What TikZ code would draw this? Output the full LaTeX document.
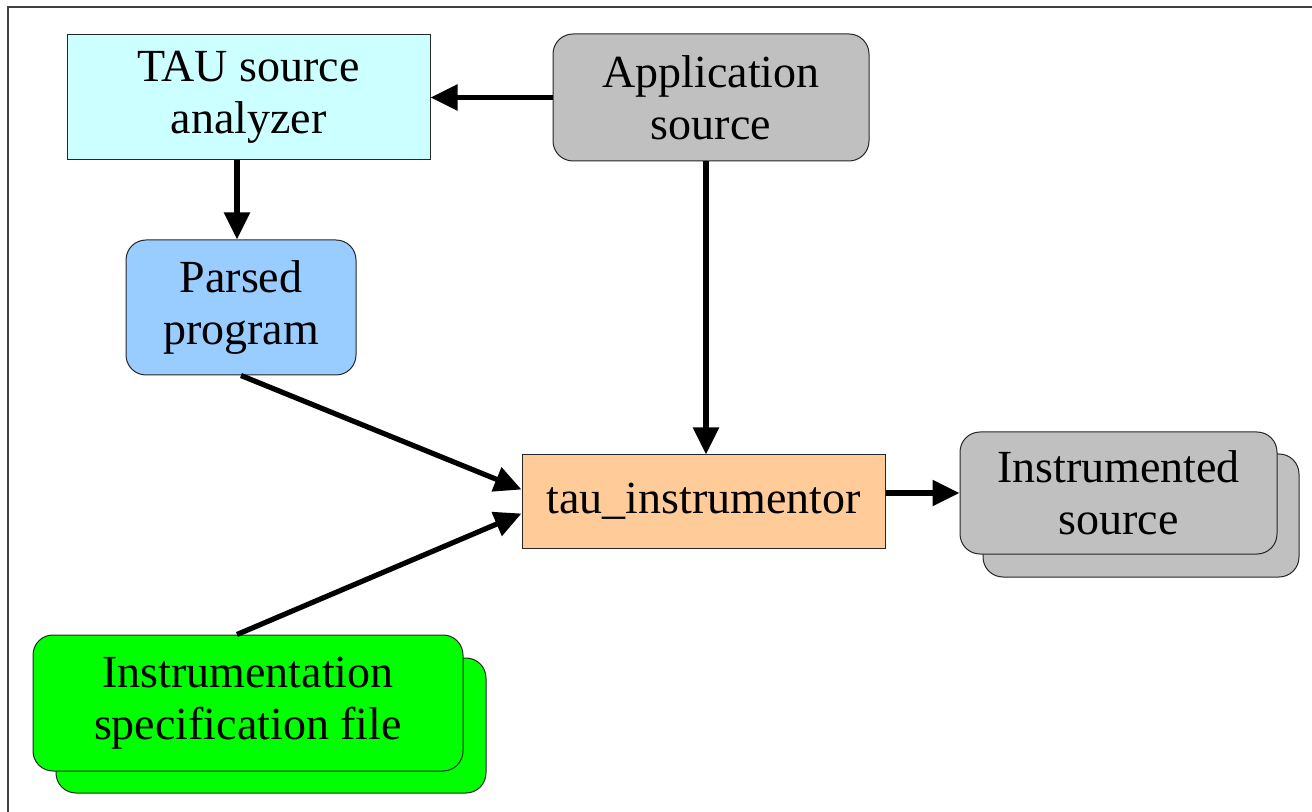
\documentclass[tikz,border=0pt]{standalone}
\usepackage{fontspec}
\setmainfont{Liberation Serif}
\usetikzlibrary{arrows.meta}
\definecolor{tauCyan}{HTML}{CCFFFF}
\definecolor{appGray}{HTML}{C0C0C0}
\definecolor{parsedBlue}{HTML}{99CCFF}
\definecolor{instrOrange}{HTML}{FFCC99}
\definecolor{specGreen}{HTML}{00FF00}
\begin{document}
\begin{tikzpicture}[
		x=0.5pt, y=-0.5pt,
		box/.style={draw=black!85, line width=0.5pt, align=center, inner sep=0pt, font=\fontsize{23}{26}\selectfont},
		plain box/.style={box, rectangle},
		round box/.style={box, rounded corners=10pt},
		flow/.style={-{Triangle[length=13.5pt,width=12.5pt]}, line width=2.6pt}
	]
		\useasboundingbox (0,0) rectangle (1312,812);
		\draw[black!75, line width=0.8pt] (1312,7) -- (8,7) -- (8,812);

		\node[plain box, fill=tauCyan, minimum width=181.5pt, minimum height=62.5pt] (tau) at (248.5,97.5) {TAU source\\analyzer};
		\node[round box, fill=appGray, minimum width=158pt, minimum height=63.5pt] (app) at (711,97.5) {Application\\source};
		\node[round box, fill=parsedBlue, minimum width=115pt, minimum height=67.5pt] (parsed) at (241,307.5) {Parsed\\program};
		\node[plain box, fill=instrOrange, minimum width=181.5pt, minimum height=46.5pt] (instr) at (703.5,501.5) {tau\_instrumentor};

		% stacked outputs and inputs
		\node[round box, fill=appGray, minimum width=158pt, minimum height=61.5pt] (inst back) at (1141,515.5) {};
		\node[round box, fill=appGray, minimum width=158.5pt, minimum height=61pt] (inst) at (1118.5,493) {Instrumented\\source};
		\node[round box, fill=specGreen, minimum width=215pt, minimum height=67.5pt] (spec back) at (271,725.5) {};
		\node[round box, fill=specGreen, minimum width=215pt, minimum height=68pt] (spec) at (248,703) {Instrumentation\\specification file};

		\draw[flow] (app.west) -- (tau.east);
		\draw[flow] ([xshift=-2pt]parsed.north |- tau.south) -- ([xshift=-2pt]parsed.north);
		\draw[flow] ([xshift=-2.5pt]app.south) -- ([xshift=-2.5pt]app.south |- instr.north);
		\draw[flow] (parsed.south) -- ([yshift=6pt]instr.west);
		\draw[flow] ([xshift=-5.5pt]spec.north) -- ([yshift=-6pt]instr.west);
		\draw[flow] (instr.east |- inst.west) -- (inst.west);
	\end{tikzpicture}
\end{document}
